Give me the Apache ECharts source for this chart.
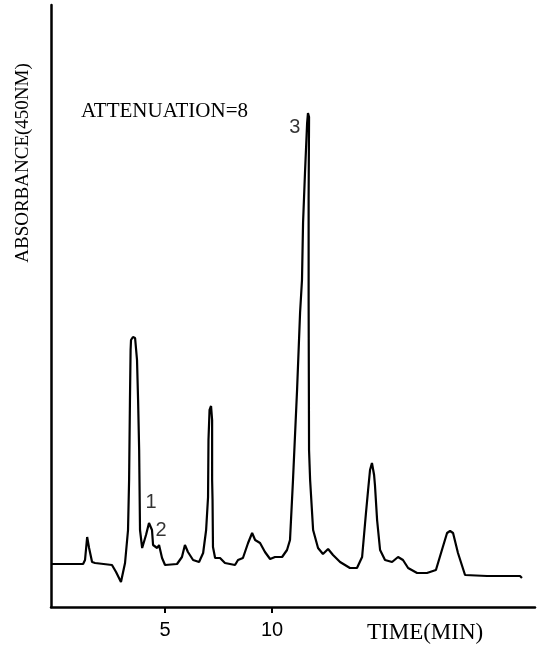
<!DOCTYPE html>
<html>
<head>
	<meta charset="utf-8">
	<title>Chromatogram</title>
	<script src="https://cdn.jsdelivr.net/npm/echarts@6/dist/echarts.min.js"></script>
	<style>
		html, body { margin: 0; padding: 0; background: #fff; }
	</style>
</head>
<body>
	<div id="chart" style="width: 541px;height:648px;"></div>
	<script type="text/javascript">
		// retention time (min) and detector signal
		var timeMin = [-0.33, 1.17, 1.26, 1.36, 1.45, 1.59, 1.73, 2.52, 2.71, 2.94,
			3.13, 3.27, 3.32, 3.36, 3.39, 3.41, 3.50, 3.60, 3.69, 3.74,
			3.79, 3.81, 3.83, 3.93, 4.11, 4.25, 4.39, 4.44, 4.63, 4.72,
			4.86, 5.00, 5.56, 5.79, 5.93, 6.07, 6.31, 6.59, 6.78, 6.92,
			7.01, 7.03, 7.08, 7.15, 7.20, 7.20, 7.22, 7.24, 7.34, 7.57,
			7.80, 8.27, 8.41, 8.64, 8.88, 9.07, 9.21, 9.44, 9.67, 9.91,
			10.14, 10.47, 10.70, 10.84, 10.98, 11.17, 11.31, 11.40, 11.45, 11.54,
			11.64, 11.68, 11.73, 11.71, 11.71, 11.73, 11.78, 11.92, 12.15, 12.38,
			12.62, 12.85, 13.18, 13.64, 13.97, 14.21, 14.39, 14.49, 14.58, 14.67,
			14.77, 14.81, 14.91, 15.05, 15.28, 15.61, 15.89, 16.12, 16.36, 16.78,
			17.24, 17.66, 17.94, 18.18, 18.32, 18.46, 18.69, 19.02, 20.05, 21.59,
			21.68];
		var absorbance = [8.6, 8.6, 9.4, 14.0, 11.8, 9.0, 8.8, 8.4, 7.0, 5.0,
			8.8, 15.4, 25.4, 41.4, 51.4, 53.4, 54.0, 53.8, 49.4, 41.4,
			31.4, 23.4, 15.4, 11.8, 14.4, 16.8, 15.4, 12.4, 11.8, 12.4,
			9.8, 8.4, 8.6, 10.0, 12.4, 11.0, 9.4, 9.0, 10.8, 15.4,
			22.0, 33.4, 39.4, 40.2, 37.4, 25.4, 21.4, 12.0, 9.8, 9.8,
			8.8, 8.4, 9.4, 9.8, 12.8, 14.8, 13.4, 12.8, 11.0, 9.6,
			10.0, 10.0, 11.4, 13.4, 25.4, 43.4, 58.8, 65.4, 76.8, 86.8,
			96.8, 98.8, 98.0, 81.4, 61.4, 31.4, 25.4, 15.4, 11.8, 10.6,
			11.6, 10.4, 9.0, 7.8, 7.8, 10.0, 18.8, 23.4, 27.4, 28.8,
			26.4, 24.4, 17.4, 11.4, 9.4, 9.0, 10.0, 9.4, 7.8, 6.8,
			6.8, 7.4, 11.4, 14.8, 15.2, 14.8, 10.8, 6.4, 6.2, 6.2,
			5.8];
		var xTicks = [5, 10];
		var peakNames = ['1', '2', '3'];
		var peakLabelPos = [[4.35, 21.0], [4.81, 15.4], [11.07, 96.0]];

		var trace = [];
		for (var i = 0; i < timeMin.length; i++) {
			trace.push([timeMin[i], absorbance[i]]);
		}
		var peakLabels = [];
		for (var j = 0; j < peakNames.length; j++) {
			peakLabels.push({ name: peakNames[j], value: peakLabelPos[j] });
		}

		var myChart = echarts.init(document.getElementById('chart'));
		var option = {
			animation: false,
			backgroundColor: '#fff',
			grid: { left: 51, right: 6, top: 5, bottom: 41 },
			xAxis: {
				type: 'value',
				min: -0.33,
				max: 22.29,
				splitLine: { show: false },
				axisLine: { onZero: false, lineStyle: { color: '#000', width: 2.5 } },
				axisTick: { show: true, customValues: xTicks, length: 6, lineStyle: { color: '#000', width: 2 } },
				axisLabel: {
					customValues: xTicks,
					color: '#000',
					fontFamily: 'Liberation Sans',
					fontSize: 20,
					margin: 13
				}
			},
			yAxis: {
				type: 'value',
				min: 0,
				max: 120.4,
				splitLine: { show: false },
				axisLine: { show: true, onZero: false, lineStyle: { color: '#000', width: 2.5 } },
				axisTick: { show: false },
				axisLabel: { show: false }
			},
			graphic: [
				{
					type: 'text',
					left: 81,
					top: 101,
					style: { text: 'ATTENUATION=8', fill: '#000', font: '21px "Liberation Serif"' }
				},
				{
					type: 'text',
					left: 367,
					top: 621,
					style: { text: 'TIME(MIN)', fill: '#000', font: '23px "Liberation Serif"' }
				},
				{
					type: 'text',
					x: 23,
					y: 163,
					rotation: Math.PI / 2,
					style: {
						text: 'ABSORBANCE(450NM)',
						fill: '#000',
						font: '19px "Liberation Serif"',
						align: 'center',
						verticalAlign: 'middle'
					}
				}
			],
			series: [
				{
					type: 'line',
					data: trace,
					showSymbol: false,
					smooth: false,
					lineStyle: { color: '#000', width: 2.2 }
				},
				{
					type: 'scatter',
					data: peakLabels,
					symbolSize: 0,
					label: {
						show: true,
						position: 'inside',
						formatter: '{b}',
						color: '#000',
						fontFamily: 'Liberation Sans',
						fontSize: 20
					}
				}
			]
		};
		myChart.setOption(option);
	</script>
</body>
</html>
